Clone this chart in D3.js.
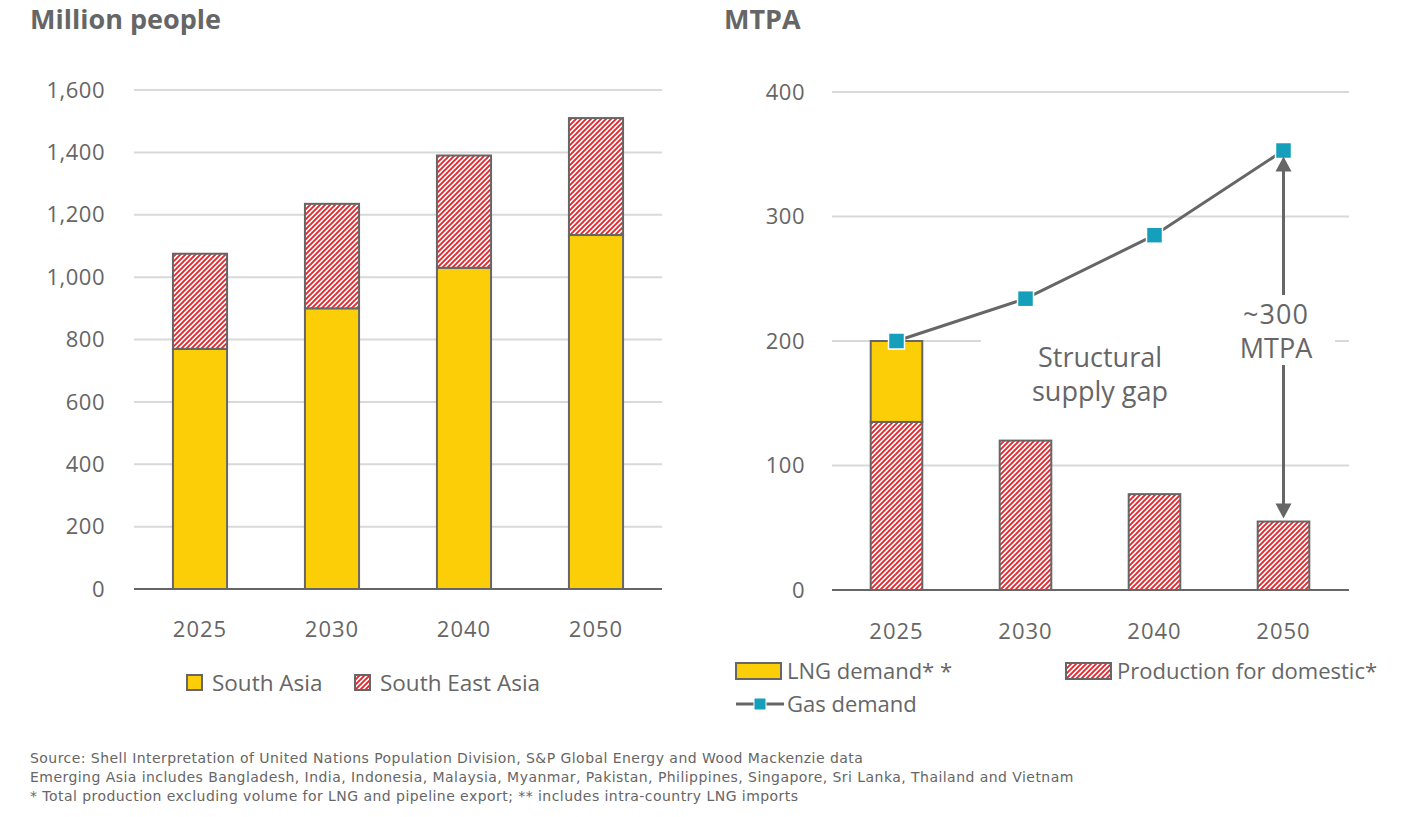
<!DOCTYPE html>
<html>
<head>
<meta charset="utf-8">
<script src="https://cdn.jsdelivr.net/npm/d3@7"></script>
<style>
  body { margin: 0; background: #fff; }
  svg text { font-family: "Open Sans", sans-serif; fill: #666; }
</style>
</head>
<body>
<div id="chart"></div>
<script>
// ---- data ----
const years = ["2025", "2030", "2040", "2050"];
const southAsia = [770, 900, 1030, 1135];
const southEastAsia = [305, 335, 360, 375];
const popTicks = [0, 200, 400, 600, 800, 1000, 1200, 1400, 1600];

const lngDemand = [65, 0, 0, 0];
const domesticProduction = [135, 120, 77, 55];
const gasDemand = [200, 234, 285, 353];
const mtpaTicks = [0, 100, 200, 300, 400];

const footnotes = [
  "Source: Shell Interpretation of United Nations Population Division, S&P Global Energy and Wood Mackenzie data",
  "Emerging Asia includes Bangladesh, India, Indonesia, Malaysia, Myanmar, Pakistan, Philippines, Singapore, Sri Lanka, Thailand and Vietnam",
  "* Total production excluding volume for LNG and pipeline export; ** includes intra-country LNG imports"
];

const YELLOW = "#FBCE07", RED = "#E4262B", GREY = "#666", GRID = "#D9D9D9", TEAL = "#159FBA";

const svg = d3.select("#chart").append("svg")
  .attr("width", 1403)
  .attr("height", 817);

// hatch pattern (red "/" stripes)
const pat = svg.append("defs").append("pattern")
  .attr("id", "hatch")
  .attr("patternUnits", "userSpaceOnUse")
  .attr("width", 5).attr("height", 5);
pat.append("rect").attr("width", 5).attr("height", 5).attr("fill", "#fff");
pat.append("path")
  .attr("d", "M-1,1 l2,-2 M0,5 l5,-5 M4,6 l2,-2")
  .attr("stroke", RED).attr("stroke-width", 1.9);

// ================= left chart =================
const xL = d3.scaleBand().domain(years).range([134, 662]).paddingInner(0.59).paddingOuter(0.295);
const yL = d3.scaleLinear().domain([0, 1600]).range([589, 90]);

const left = svg.append("g");

left.append("text").attr("x", 30).attr("y", 29)
  .style("font-size", "27px").style("font-weight", "bold").text("Million people");

left.append("g").selectAll("line").data(popTicks.slice(1)).join("line")
  .attr("x1", 134).attr("x2", 662)
  .attr("y1", d => yL(d)).attr("y2", d => yL(d))
  .attr("stroke", GRID).attr("stroke-width", 2);

left.append("g").selectAll("text").data(popTicks).join("text")
  .attr("x", 105).attr("y", d => yL(d)).attr("dy", "0.35em")
  .attr("text-anchor", "end").style("font-size", "22px").style("letter-spacing", "0.5px")
  .text(d => d3.format(",")(d));

const popData = years.map((y, i) => ({ year: y, sa: southAsia[i], sea: southEastAsia[i] }));

left.append("g").selectAll("rect").data(popData).join("rect")
  .attr("x", d => xL(d.year)).attr("width", xL.bandwidth())
  .attr("y", d => yL(d.sa)).attr("height", d => yL(0) - yL(d.sa))
  .attr("fill", YELLOW).attr("stroke", GREY).attr("stroke-width", 2);

left.append("g").selectAll("rect").data(popData).join("rect")
  .attr("x", d => xL(d.year)).attr("width", xL.bandwidth())
  .attr("y", d => yL(d.sa + d.sea)).attr("height", d => yL(d.sa) - yL(d.sa + d.sea))
  .attr("fill", "url(#hatch)").attr("stroke", GREY).attr("stroke-width", 2);

left.append("line").attr("x1", 134).attr("x2", 662)
  .attr("y1", yL(0)).attr("y2", yL(0)).attr("stroke", GREY).attr("stroke-width", 2);

left.append("g").selectAll("text").data(years).join("text")
  .attr("x", d => xL(d) + xL.bandwidth() / 2).attr("y", 637)
  .attr("text-anchor", "middle").style("font-size", "22px").style("letter-spacing", "1px").text(d => d);

// legend left
const legL = [
  { label: "South Asia", fill: YELLOW, x: 187 },
  { label: "South East Asia", fill: "url(#hatch)", x: 355 }
];
const lg = left.append("g").selectAll("g").data(legL).join("g");
lg.append("rect").attr("x", d => d.x).attr("y", 675).attr("width", 15).attr("height", 15)
  .attr("fill", d => d.fill).attr("stroke", GREY).attr("stroke-width", 2);
lg.append("text").attr("x", d => d.x + 25).attr("y", 691)
  .style("font-size", "22.5px").text(d => d.label);

// ================= right chart =================
const xR = d3.scaleBand().domain(years).range([832, 1348]).paddingInner(0.6).paddingOuter(0.3);
const yR = d3.scaleLinear().domain([0, 400]).range([590, 92]);
const cx = d => xR(d) + xR.bandwidth() / 2;

const right = svg.append("g");

right.append("text").attr("x", 724).attr("y", 29)
  .style("font-size", "27px").style("font-weight", "bold").text("MTPA");

right.append("g").selectAll("line").data(mtpaTicks.slice(1)).join("line")
  .attr("x1", 832).attr("x2", 1349)
  .attr("y1", d => yR(d)).attr("y2", d => yR(d))
  .attr("stroke", GRID).attr("stroke-width", 2);

right.append("g").selectAll("text").data(mtpaTicks).join("text")
  .attr("x", 805).attr("y", d => yR(d)).attr("dy", "0.35em")
  .attr("text-anchor", "end").style("font-size", "22px").style("letter-spacing", "0.5px").text(d => d);

const gasData = years.map((y, i) => ({ year: y, prod: domesticProduction[i], lng: lngDemand[i], gas: gasDemand[i] }));

right.append("g").selectAll("rect").data(gasData).join("rect")
  .attr("x", d => xR(d.year)).attr("width", xR.bandwidth())
  .attr("y", d => yR(d.prod)).attr("height", d => yR(0) - yR(d.prod))
  .attr("fill", "url(#hatch)").attr("stroke", GREY).attr("stroke-width", 2);

right.append("g").selectAll("rect").data(gasData.filter(d => d.lng > 0)).join("rect")
  .attr("x", d => xR(d.year)).attr("width", xR.bandwidth())
  .attr("y", d => yR(d.prod + d.lng)).attr("height", d => yR(d.prod) - yR(d.prod + d.lng))
  .attr("fill", YELLOW).attr("stroke", GREY).attr("stroke-width", 2);

right.append("line").attr("x1", 832).attr("x2", 1349)
  .attr("y1", yR(0)).attr("y2", yR(0)).attr("stroke", GREY).attr("stroke-width", 2);

right.append("g").selectAll("text").data(years).join("text")
  .attr("x", d => cx(d)).attr("y", 639)
  .attr("text-anchor", "middle").style("font-size", "22px").style("letter-spacing", "1px").text(d => d);

// gas demand line + markers
right.append("path").datum(gasData)
  .attr("d", d3.line().x(d => cx(d.year)).y(d => yR(d.gas)))
  .attr("fill", "none").attr("stroke", GREY).attr("stroke-width", 3);

right.append("g").selectAll("rect").data(gasData).join("rect")
  .attr("x", d => cx(d.year) - 8).attr("y", d => yR(d.gas) - 8)
  .attr("width", 16).attr("height", 16)
  .attr("fill", TEAL).attr("stroke", "#fff").attr("stroke-width", 1.5);

// double-headed gap arrow at 2050
const last = gasData[gasData.length - 1];
const ax = cx(last.year);
const arrowTop = yR(last.gas) + 6, arrowBot = yR(last.prod) - 3;
right.append("line").attr("x1", ax).attr("x2", ax).attr("y1", arrowTop + 12).attr("y2", arrowBot - 12)
  .attr("stroke", GREY).attr("stroke-width", 3);
right.append("path")
  .attr("d", `M${ax},${arrowTop} l-8,15 l16,0 Z M${ax},${arrowBot} l-8,-15 l16,0 Z`)
  .attr("fill", GREY);

// annotation boxes
right.append("rect").attr("x", 981).attr("y", 333).attr("width", 245).attr("height", 74).attr("fill", "#fff");
right.append("rect").attr("x", 1222).attr("y", 295).attr("width", 113).attr("height", 70).attr("fill", "#fff");

right.append("text").attr("x", 1100).attr("y", 367).attr("text-anchor", "middle")
  .style("font-size", "27px").text("Structural");
right.append("text").attr("x", 1100).attr("y", 401).attr("text-anchor", "middle")
  .style("font-size", "27px").text("supply gap");
right.append("text").attr("x", 1276).attr("y", 324).attr("text-anchor", "middle")
  .style("font-size", "27px").style("letter-spacing", "1px").text("~300");
right.append("text").attr("x", 1276).attr("y", 358).attr("text-anchor", "middle")
  .style("font-size", "27px").text("MTPA");

// legend right
right.append("rect").attr("x", 736).attr("y", 663).attr("width", 45).attr("height", 16)
  .attr("fill", YELLOW).attr("stroke", GREY).attr("stroke-width", 2);
right.append("text").attr("x", 787).attr("y", 679).style("font-size", "22px").text("LNG demand* *");
right.append("rect").attr("x", 1066).attr("y", 663).attr("width", 45).attr("height", 16)
  .attr("fill", "url(#hatch)").attr("stroke", GREY).attr("stroke-width", 2);
right.append("text").attr("x", 1117).attr("y", 679).style("font-size", "22px").text("Production for domestic*");

right.append("line").attr("x1", 736).attr("x2", 784).attr("y1", 704).attr("y2", 704)
  .attr("stroke", GREY).attr("stroke-width", 3);
right.append("rect").attr("x", 754).attr("y", 698).attr("width", 12).attr("height", 12)
  .attr("fill", TEAL).attr("stroke", "#fff").attr("stroke-width", 1);
right.append("text").attr("x", 787).attr("y", 712).style("font-size", "22px").text("Gas demand");

// ================= footnotes =================
svg.append("g").selectAll("text").data(footnotes).join("text")
  .attr("x", 30).attr("y", (d, i) => 763 + i * 19)
  .style("font-family", "'DejaVu Sans', sans-serif")
  .style("letter-spacing", "0.45px")
  .style("font-size", "14px").text(d => d);
</script>
</body>
</html>
